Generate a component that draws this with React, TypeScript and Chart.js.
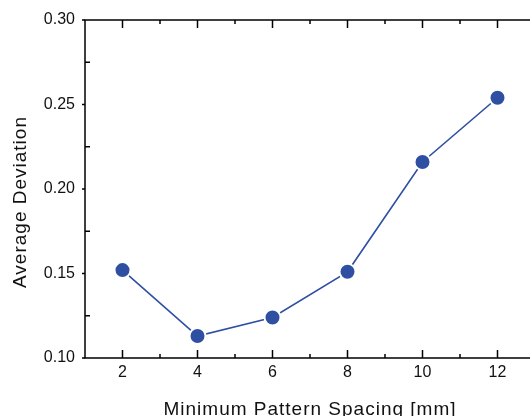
import React, { useEffect, useRef } from "react";
import { Chart, registerables } from "chart.js";

Chart.register(...registerables);

// ---- data ----
const spacing = [2, 4, 6, 8, 10, 12];
const deviation = [0.152, 0.113, 0.124, 0.151, 0.216, 0.254];
const xMajorTicks = [2, 4, 6, 8, 10, 12];
const xMinorTicks = [3, 5, 7, 9, 11, 13];
const yMajorTicks = [0.1, 0.15, 0.2, 0.25, 0.3];
const yMinorTicks = [0.125, 0.175, 0.225, 0.275];
const xTitle = "Minimum Pattern Spacing [mm]";
const yTitle = "Average Deviation";

const FONT = "'Liberation Sans', Arial, Helvetica, sans-serif";
const BLUE = "#2f4fa3";

const framePlugin = {
  id: "frameAndTicks",
  afterDraw(chart: any) {
    const { ctx, chartArea } = chart;
    const { left, right, top, bottom } = chartArea;
    const xs = chart.scales.x;
    const ys = chart.scales.y;
    ctx.save();
    ctx.strokeStyle = "#000";
    ctx.lineWidth = 1.5;
    ctx.beginPath();
    ctx.rect(left, top, right - left, bottom - top);
    ctx.stroke();

    ctx.beginPath();
    xMajorTicks.forEach((v) => {
      const px = xs.getPixelForValue(v);
      ctx.moveTo(px, top);
      ctx.lineTo(px, top + 8);
      ctx.moveTo(px, bottom);
      ctx.lineTo(px, bottom - 8);
    });
    xMinorTicks.forEach((v) => {
      const px = xs.getPixelForValue(v);
      ctx.moveTo(px, top);
      ctx.lineTo(px, top + 4);
      ctx.moveTo(px, bottom);
      ctx.lineTo(px, bottom - 4);
    });
    yMajorTicks.forEach((v) => {
      const py = ys.getPixelForValue(v);
      ctx.moveTo(left, py);
      ctx.lineTo(left - 3, py);
    });
    yMinorTicks.forEach((v) => {
      const py = ys.getPixelForValue(v);
      ctx.moveTo(left, py);
      ctx.lineTo(left + 5, py);
    });
    ctx.stroke();

    // titles
    ctx.fillStyle = "#111";
    ctx.font = `19px ${FONT}`;
    try {
      (ctx as any).letterSpacing = "1px";
    } catch (e) {}
    ctx.textAlign = "center";
    ctx.textBaseline = "alphabetic";
    ctx.fillText(xTitle, (left + right) / 2, 415);

    ctx.translate(26, (top + bottom) / 2 + 13);
    ctx.rotate(-Math.PI / 2);
    ctx.fillText(yTitle, 0, 0);
    ctx.restore();
  },
};

export default function App() {
  const canvasRef = useRef<HTMLCanvasElement | null>(null);

  useEffect(() => {
    if (!canvasRef.current) return;
    const chart = new Chart(canvasRef.current, {
      type: "line",
      data: {
        datasets: [
          {
            data: spacing.map((x, i) => ({ x, y: deviation[i] })),
            borderColor: BLUE,
            borderWidth: 1.6,
            backgroundColor: BLUE,
            pointBackgroundColor: BLUE,
            pointBorderColor: "#ffffff",
            pointBorderWidth: 2,
            pointRadius: 8,
            pointHoverRadius: 8,
            tension: 0,
            fill: false,
          },
        ],
      },
      options: {
        animation: false,
        responsive: false,
        devicePixelRatio: 1,
        events: [],
        layout: { padding: { left: 0, top: 20, right: 7, bottom: 0 } },
        plugins: {
          legend: { display: false },
          tooltip: { enabled: false },
          title: { display: false },
        },
        scales: {
          x: {
            type: "linear",
            min: 1,
            max: 13,
            grid: { display: false, drawTicks: false },
            border: { display: false },
            afterBuildTicks: (scale: any) => {
              scale.ticks = xMajorTicks.map((v) => ({ value: v }));
            },
            afterFit: (scale: any) => {
              scale.height = 58;
            },
            ticks: {
              padding: 5,
              color: "#111",
              font: { family: FONT, size: 16 },
              maxRotation: 0,
              autoSkip: false,
              callback: (v: any) => String(v),
            },
          },
          y: {
            type: "linear",
            min: 0.1,
            max: 0.3,
            grid: { display: false, drawTicks: false },
            border: { display: false },
            afterBuildTicks: (scale: any) => {
              scale.ticks = yMajorTicks.map((v) => ({ value: v }));
            },
            afterFit: (scale: any) => {
              scale.width = 85;
            },
            ticks: {
              padding: 10,
              color: "#111",
              font: { family: FONT, size: 16 },
              autoSkip: false,
              callback: (v: any) => Number(v).toFixed(2),
            },
          },
        },
      },
      plugins: [framePlugin],
    });
    return () => chart.destroy();
  }, []);

  return (
    <div
      style={{
        position: "fixed",
        left: 0,
        top: 0,
        width: 530,
        height: 416,
        overflow: "hidden",
        background: "#fff",
      }}
    >
      <canvas
        ref={canvasRef}
        width={545}
        height={416}
        style={{ display: "block", width: 545, height: 416 }}
      />
    </div>
  );
}
